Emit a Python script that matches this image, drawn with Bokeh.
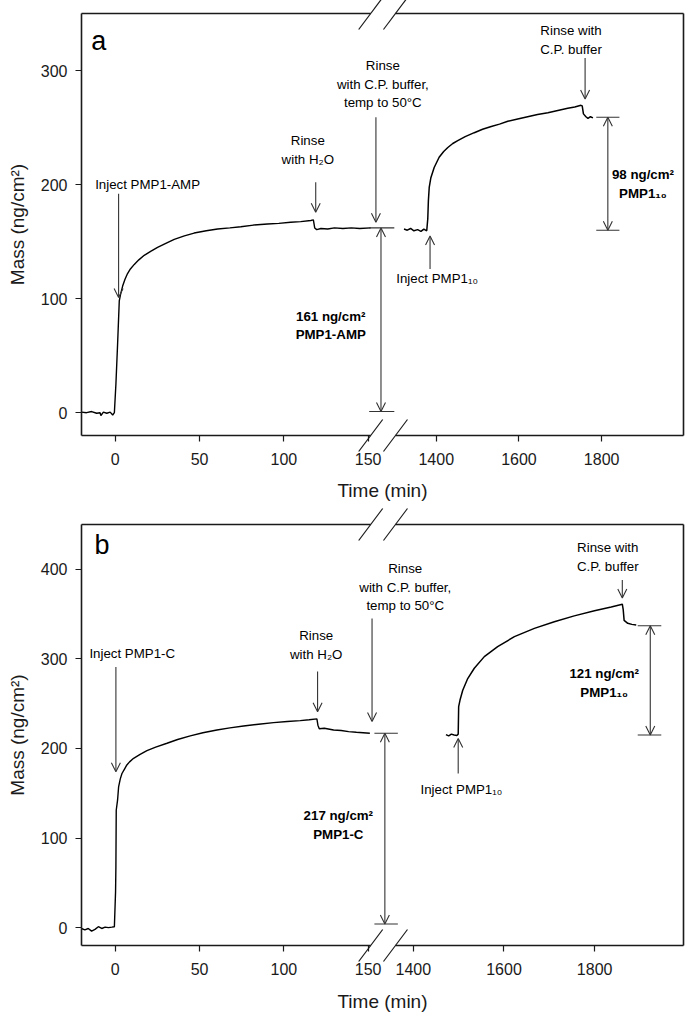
from bokeh.plotting import figure
from bokeh.models import Range1d, FixedTicker, Label, Arrow, OpenHead
from bokeh.layouts import column
from bokeh.embed import file_html
from bokeh.resources import INLINE

FONT = "Liberation Sans"
INK = "#1a1a1a"
ANN = "#333333"

# ---------------- data ----------------
# Panel a : PMP1-AMP, then PMP1_10
a_early_t = [-20, -17, -14, -11, -9, -8.5, -7, -5, -3, -1.5, -0.5, 0.4, 1.4, 2.4, 3.2, 4.4, 5.8, 7.3,
             9, 11.3, 14, 17.2, 21, 25.1, 30, 35, 41, 46.8, 54, 60.7, 68, 74.5, 82, 90.3, 97, 104,
             110, 116, 117.5, 118.3, 119.5, 122, 126, 130, 135, 140, 145, 151.5]
a_early_m = [0.5, 0, 1, -0.5, 0, -2.5, 0.5, -0.5, 0.5, -2, 0, 25, 60, 98, 104, 111, 117, 122,
             126, 130, 134, 138, 141.5, 145, 148.5, 152, 155, 157.5, 159.5, 161, 162, 163, 164.5, 165.5, 166, 167,
             167.5, 168.5, 169, 162, 160.5, 161.5, 161, 162, 161.5, 162, 161.5, 162]
a_late_t = [1322, 1330, 1338, 1346, 1355, 1363, 1370, 1377, 1379.5, 1381, 1383, 1387, 1395, 1407, 1418,
            1428, 1440, 1452, 1470, 1492, 1512, 1533, 1553, 1573, 1597, 1621, 1645, 1670, 1694, 1718,
            1735, 1750, 1753, 1756, 1762, 1767, 1773, 1779]
a_late_m = [161, 160, 161.5, 159.5, 160.5, 159, 161, 159.5, 170, 186, 197.5, 206, 215, 224, 229,
            232.5, 236, 238.5, 242, 245.5, 248.5, 251, 253, 255.5, 257.5, 259.5, 261.5, 263, 265, 267,
            268, 269.5, 269, 262, 259.5, 258, 259.5, 258.5]

# Panel b : PMP1-C, then PMP1_10
b_early_t = [-20, -18, -16, -14, -12, -10, -8, -6, -4, -2, -0.5, 0.2, 0.4, 0.6, 1.4, 2, 3, 4, 5.5,
             6.9, 8.5, 10.9, 14.5, 18.8, 24, 30.7, 37, 44.5, 52, 60.3, 68, 76.1, 85, 93.9, 102, 109.7,
             115, 119.6, 120.2, 121, 124, 129.5, 134, 138.4, 143, 147, 151]
b_early_m = [-1, -2.5, -1, -4, -2, 1, -1, 0.5, 0, 0.5, 1, 40, 68, 131, 142.5, 157, 166, 172, 177,
             181.6, 185, 189, 193, 197.5, 201.5, 205.8, 210, 214, 217.5, 220.6, 223, 225, 227, 228.8, 230, 231,
             232, 233, 226, 222, 222.5, 220.6, 220, 218.8, 218, 217.5, 217]
b_late_t = [1472, 1478, 1484, 1490, 1496, 1499, 1500, 1503, 1509, 1520, 1534.5, 1556.6, 1586, 1623,
            1667, 1711, 1755, 1799.6, 1836.5, 1861, 1863, 1865, 1873, 1882, 1891.7]
b_late_m = [215.4, 214, 216, 215, 214.5, 216, 246.7, 254, 265, 278, 289.5, 302.5, 313.6, 324.8,
            334, 341.5, 348, 353.8, 358, 361, 355, 343, 339.7, 338.5, 337.8]

x_ticks_early = [0, 50, 100, 150]
x_ticks_late = [1400, 1600, 1800]
a_y_ticks = [0, 100, 200, 300]
b_y_ticks = [0, 100, 200, 300, 400]

# annotation texts: (text, x, y, range, bold)
a_texts = [
    ("Inject PMP1-AMP", 19.2, 200, "default", False),
    ("Rinse\nwith H\u2082O", 114.2, 230, "default", False),
    ("Rinse\nwith C.P. buffer,\ntemp to 50\u00b0C", 158.7, 288, "default", False),
    ("161 ng/cm\u00b2\nPMP1-AMP", 127.8, 76.5, "default", True),
    ("Inject PMP1\u2081\u2080", 1402, 117.6, "late", False),
    ("Rinse with\nC.P. buffer", 1726, 327, "late", False),
    ("98 ng/cm\u00b2\nPMP1\u2081\u2080", 1900, 200.8, "late", True),
]
# arrows: (x, y_from, y_to, range, double)
a_arrows = [
    (2.0, 192, 101, "default", False),
    (118.9, 202, 175.7, "default", False),
    (154.6, 259, 167, "default", False),
    (157.6, 1, 162, "default", True),
    (1385, 126, 155, "late", False),
    (1760, 311, 275, "late", False),
    (1815, 160, 259, "late", True),
]
# level bars: (x0, x1, y, range)
a_bars = [(150.6, 165.5, 162, "default"), (150.6, 165.5, 1, "default"),
          (1787, 1843, 259, "late"), (1787, 1843, 160, "late")]

b_texts = [
    ("Inject PMP1-C", 10.1, 305.5, "default", False),
    ("Rinse\nwith H\u2082O", 119.2, 315.5, "default", False),
    ("Rinse\nwith C.P. buffer,\ntemp to 50\u00b0C", 172, 380, "default", False),
    ("217 ng/cm\u00b2\nPMP1-C", 132.3, 114.6, "default", True),
    ("Inject PMP1\u2081\u2080", 1506, 153.7, "late", False),
    ("Rinse with\nC.P. buffer", 1829, 414, "late", False),
    ("121 ng/cm\u00b2\nPMP1\u2081\u2080", 1821, 273, "late", True),
]
b_arrows = [
    (0.4, 291, 174, "default", False),
    (120, 286, 241, "default", False),
    (152.3, 345, 230, "default", False),
    (159.9, 4, 217, "default", True),
    (1499, 172, 211, "late", False),
    (1861, 388, 368, "late", False),
    (1922.7, 215, 337, "late", True),
]
b_bars = [(153.7, 167.6, 217, "default"), (153.7, 167.6, 4, "default"),
          (1895, 1947, 337, "late"), (1895, 1947, 215, "late")]

# ---------------- layout constants ----------------
X_EARLY = (-20, 337)      # early-time scale (min)
BREAK = (151.5, 166.2)    # axis-break gap, in early-time units
W = 685
LEFT = 81
FRAME_W = 602


def make_panel(letter, letter_xy, et, em, lt, lm, y_rng, late_rng, y_ticks, texts, arrows, bars,
               top, frame_h, bottom, xlabel_standoff):
    p = figure(width=W, height=top + frame_h + bottom,
               x_range=Range1d(*X_EARLY), y_range=Range1d(*y_rng),
               output_backend="svg", toolbar_location=None,
               min_border_left=LEFT, min_border_right=W - LEFT - FRAME_W,
               min_border_top=top, min_border_bottom=bottom)
    p.extra_x_ranges = {"late": Range1d(*late_rng)}
    p.grid.visible = False
    p.outline_line_color = None
    p.background_fill_color = "white"
    p.border_fill_color = "white"

    # one bottom axis: early ticks + late ticks placed through the late range's linear map
    L0, L1 = late_rng
    E0, E1 = X_EARLY

    def late_to_early(v):
        return round(E0 + (v - L0) * (E1 - E0) / (L1 - L0), 4)

    late_pos = [late_to_early(v) for v in x_ticks_late]
    xa = p.xaxis[0]
    xa.ticker = FixedTicker(ticks=list(x_ticks_early) + late_pos)
    xa.major_label_overrides = {pos: str(v) for pos, v in zip(late_pos, x_ticks_late)}
    xa.axis_label = "Time (min)"
    ya = p.yaxis[0]
    ya.ticker = FixedTicker(ticks=y_ticks)
    ya.axis_label = "Mass (ng/cm\u00b2)"

    for ax in (xa, ya):
        ax.major_tick_out = 6
        ax.major_tick_in = 0
        ax.minor_tick_line_color = None
        ax.major_tick_line_color = INK
        ax.major_tick_line_width = 1.2
        ax.major_label_text_font = FONT
        ax.major_label_text_font_size = "16px"
        ax.major_label_text_color = INK
        ax.axis_label_text_font = FONT
        ax.axis_label_text_font_size = "19px"
        ax.axis_label_text_font_style = "normal"
        ax.axis_label_text_color = INK
    xa.major_label_standoff = 11
    ya.major_label_standoff = 8
    xa.axis_line_color = None
    ya.axis_line_color = INK
    ya.axis_line_width = 1.6
    ya.axis_label_standoff = 10
    xa.axis_label_standoff = xlabel_standoff

    # frame with the axis break
    y0, y1 = y_rng
    for yy in (y0, y1):
        p.segment(x0=[X_EARLY[0], BREAK[1]], x1=[BREAK[0], X_EARLY[1]], y0=[yy, yy], y1=[yy, yy],
                  line_color=INK, line_width=1.6, level="overlay")
    p.segment(x0=[X_EARLY[1]], x1=[X_EARLY[1]], y0=[y0], y1=[y1],
              line_color=INK, line_width=1.6, level="overlay")
    # break slashes (24 px wide, 32 px tall)
    dx = 12 * (X_EARLY[1] - X_EARLY[0]) / FRAME_W
    dy = 16 * (y1 - y0) / frame_h
    sx0, sx1, sy0, sy1 = [], [], [], []
    for yy in (y0, y1):
        for xc in BREAK:
            sx0.append(xc - dx); sx1.append(xc + dx)
            sy0.append(yy - dy); sy1.append(yy + dy)
    p.segment(x0=sx0, x1=sx1, y0=sy0, y1=sy1, line_color=INK, line_width=1.2, level="overlay")

    # data
    p.line(et, em, line_color="black", line_width=1.4)
    p.line(lt, lm, line_color="black", line_width=1.5, x_range_name="late")

    # level bars
    for x0, x1, yy, rn in bars:
        p.segment(x0=[x0], x1=[x1], y0=[yy], y1=[yy], line_color=ANN, line_width=1.1,
                  x_range_name=rn)
    # arrows
    for x, ya0, ya1, rn, dbl in arrows:
        kw = dict(x_start=x, y_start=ya0, x_end=x, y_end=ya1, line_color=ANN, line_width=1.1,
                  end=OpenHead(size=9, line_color=ANN, line_width=1.1))
        if dbl:
            kw["start"] = OpenHead(size=9, line_color=ANN, line_width=1.1)
        if rn == "late":
            kw["x_range_name"] = "late"
        p.add_layout(Arrow(**kw))
    # texts
    for t, x, y, rn, bold in texts:
        kw = dict(x=x, y=y, text=t, text_font=FONT, text_font_size="13.3px",
                  text_color="black", text_align="center", text_baseline="middle",
                  text_line_height=1.25, text_font_style="bold" if bold else "normal")
        if rn == "late":
            kw["x_range_name"] = "late"
        p.add_layout(Label(**kw))
    p.add_layout(Label(x=letter_xy[0], y=letter_xy[1], text=letter, text_font=FONT,
                       text_font_size="27px", text_align="center", text_baseline="middle",
                       text_color="black"))
    return p


pa = make_panel("a", (-9.7, 326), a_early_t, a_early_m, a_late_t, a_late_m,
                (-20, 350), (542, 1998), a_y_ticks, a_texts, a_arrows, a_bars,
                top=13, frame_h=422, bottom=70, xlabel_standoff=12)
pb = make_panel("b", (-7.9, 427), b_early_t, b_early_m, b_late_t, b_late_m,
                (-20, 450), (668, 1996), b_y_ticks, b_texts, b_arrows, b_bars,
                top=19, frame_h=421, bottom=70, xlabel_standoff=13)

layout = column(pa, pb, spacing=0)
open("out.html", "w").write(file_html(layout, INLINE))
